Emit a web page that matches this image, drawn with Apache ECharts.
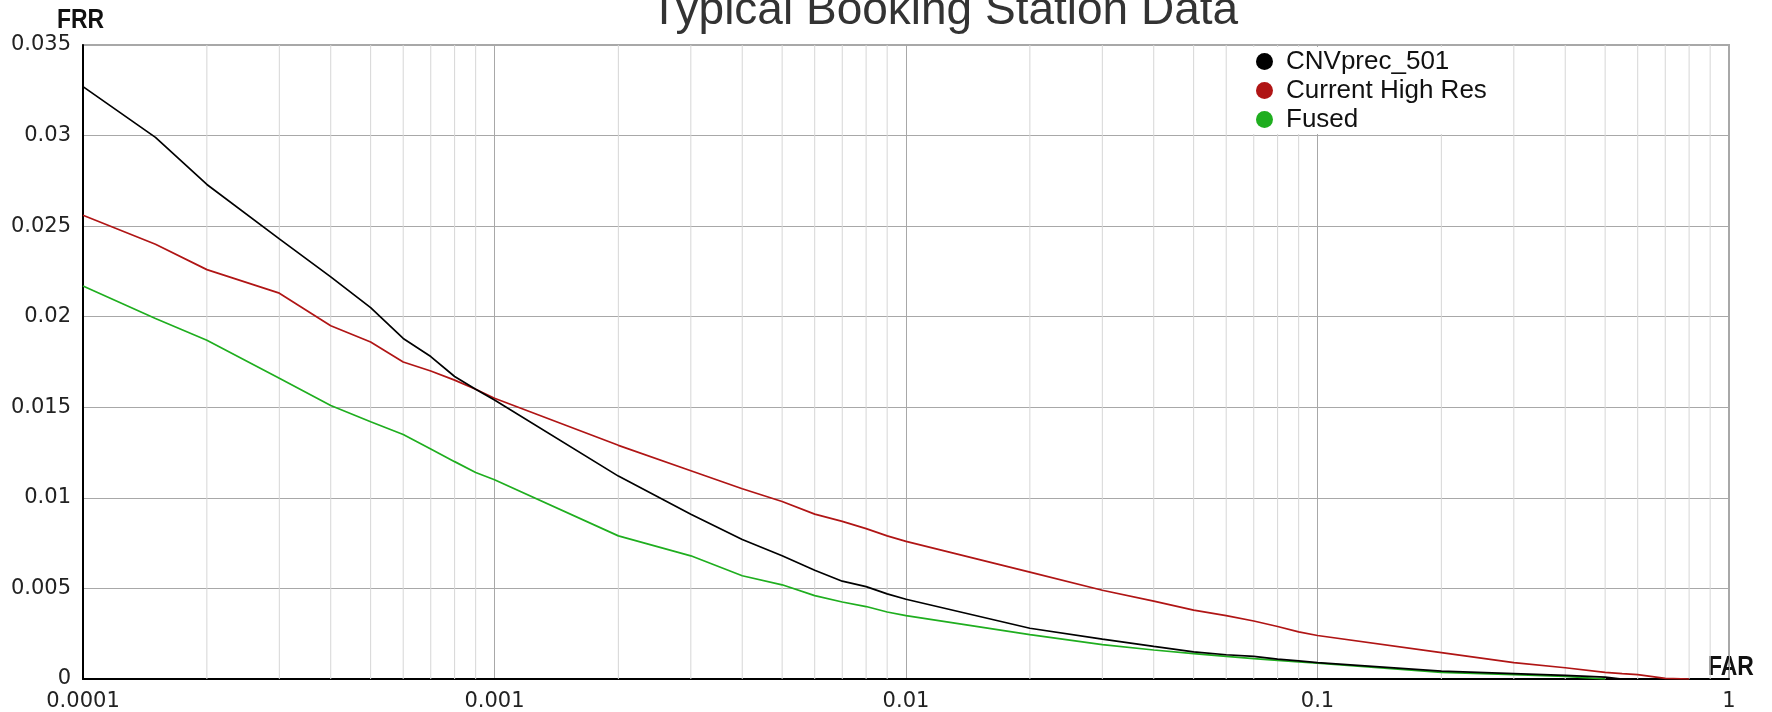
<!DOCTYPE html>
<html>
<head>
<meta charset="utf-8">
<script src="https://cdn.jsdelivr.net/npm/echarts@6/dist/echarts.min.js"></script>
<style>
  html, body { margin: 0; padding: 0; background: #fff; }
  #chart { width: 1772px; height: 712px; }
</style>
</head>
<body>
<div id="chart"></div>
<script>
// FAR sample points (x, log scale)
const farValues = [0.0001, 0.00015, 0.0002, 0.0003, 0.0004, 0.0005, 0.0006, 0.0007, 0.0008, 0.0009,
  0.001, 0.002, 0.003, 0.004, 0.005, 0.006, 0.007, 0.008, 0.009,
  0.01, 0.02, 0.03, 0.04, 0.05, 0.06, 0.07, 0.08, 0.09,
  0.1, 0.2, 0.3, 0.4, 0.5, 0.55, 0.6, 0.7, 0.8];

// FRR
const cnvprec501 = [0.0327, 0.0299, 0.0273, 0.0243, 0.0222, 0.0205, 0.0188, 0.0178, 0.0167, 0.0160,
  0.0154, 0.0112, 0.0091, 0.0077, 0.0068, 0.0060, 0.0054, 0.0051, 0.0047,
  0.0044, 0.0028, 0.0022, 0.0018, 0.0015, 0.00134, 0.00125, 0.0011, 0.0010,
  0.0009, 0.00043, 0.0003, 0.0002, 0.0001, 0, null, null, null];
const currentHighRes = [0.0256, 0.0240, 0.0226, 0.0213, 0.0195, 0.0186, 0.0175, 0.0170, 0.0165, 0.0160,
  0.0155, 0.0129, 0.0115, 0.0105, 0.0098, 0.0091, 0.0087, 0.0083, 0.0079,
  0.0076, 0.0059, 0.0049, 0.0043, 0.0038, 0.0035, 0.0032, 0.0029, 0.0026,
  0.0024, 0.00146, 0.0009, 0.00062, 0.00037, 0.0003, 0.00024, 0.00003, 0];
const fused = [0.0217, 0.0199, 0.0187, 0.0166, 0.0151, 0.0142, 0.0135, 0.0127, 0.0120, 0.0114,
  0.0110, 0.0079, 0.0068, 0.0057, 0.0052, 0.0046, 0.00425, 0.0040, 0.0037,
  0.0035, 0.00245, 0.0019, 0.0016, 0.0014, 0.00125, 0.00112, 0.00103, 0.00094,
  0.00088, 0.00037, 0.00024, 0.00015, 0, null, null, null, null];

const seriesNames = ['CNVprec_501', 'Current High Res', 'Fused'];
const seriesColors = ['#000000', '#b01515', '#1fae1f'];
const xTickLabels = ['0.0001', '0.001', '0.01', '0.1', '1'];
const yTickLabels = ['0', '0.005', '0.01', '0.015', '0.02', '0.025', '0.03', '0.035'];

const FRR_MAX = 0.035;

// light grid lines at 2..9 inside each decade, drawn as one broken line
const minorGrid = [];
[0.0001, 0.001, 0.01, 0.1].forEach(d => {
  for (let m = 2; m <= 9; m++) {
    const v = +(d * m).toPrecision(3);
    minorGrid.push([v, 0], [v, FRR_MAX], [v, null]);
  }
});

function pairs(ys) {
  return farValues.map((x, i) => [x, ys[i]]).filter(p => p[1] !== null);
}

const chart = echarts.init(document.getElementById('chart'));

const lineSeries = [cnvprec501, currentHighRes, fused].map((ys, i) => ({
  name: seriesNames[i],
  type: 'line',
  data: pairs(ys),
  showSymbol: false,
  z: 5 - i,
  color: seriesColors[i],
  lineStyle: { width: 1.7, color: seriesColors[i] }
}));

const option = {
  animation: false,
  grid: {
    left: 83, right: 43, top: 45, bottom: 32,
    show: true, borderColor: '#a8a8a8', borderWidth: 2, backgroundColor: '#fff'
  },
  graphic: [
    {
      type: 'text', x: 650, y: 11,
      style: { text: 'Typical Booking Station Data', font: '46px "Liberation Sans", Arial, sans-serif',
        fill: '#333', textAlign: 'left', textVerticalAlign: 'middle' }
    },
    {
      type: 'text', x: 57, y: 21, scaleX: 0.85,
      style: { text: 'FRR', font: 'bold 27px "Liberation Sans", Arial, sans-serif',
        fill: '#111', textAlign: 'left', textVerticalAlign: 'middle' }
    },
    {
      type: 'text', x: 1708, y: 668, scaleX: 0.85,
      style: { text: 'FAR', font: 'bold 27px "Liberation Sans", Arial, sans-serif',
        fill: '#111', textAlign: 'left', textVerticalAlign: 'middle' }
    }
  ],
  legend: {
    orient: 'vertical',
    left: 1236, top: 47,
    padding: [0, 12, 0, 20],
    backgroundColor: '#fff',
    itemGap: 0,
    itemWidth: 17, itemHeight: 17,
    icon: 'circle',
    data: seriesNames,
    textStyle: {
      fontFamily: '"Liberation Sans", Arial, sans-serif',
      fontSize: 26, lineHeight: 29, color: '#111',
      padding: [0, 0, 0, 8]
    }
  },
  xAxis: {
    type: 'log',
    logBase: 10,
    min: 0.0001,
    max: 1,
    axisLine: { show: true, onZero: false, lineStyle: { color: '#000', width: 2 } },
    axisTick: { show: false },
    splitLine: { show: true, lineStyle: { color: '#a8a8a8', width: 1 } },
    axisLabel: {
      margin: 12,
      fontFamily: '"DejaVu Sans", sans-serif',
      fontSize: 21,
      color: '#222',
      formatter: v => xTickLabels[Math.round(Math.log10(v)) + 4]
    }
  },
  yAxis: {
    type: 'value',
    min: 0,
    max: FRR_MAX,
    interval: 0.005,
    axisLine: { show: true, lineStyle: { color: '#000', width: 2 } },
    axisTick: { show: false },
    splitLine: { show: true, lineStyle: { color: '#a8a8a8', width: 1 } },
    axisLabel: {
      margin: 12,
      fontFamily: '"DejaVu Sans", sans-serif',
      fontSize: 21,
      color: '#222',
      formatter: v => yTickLabels[Math.round(v / 0.005)]
    }
  },
  series: [
    {
      name: 'minor',
      type: 'line',
      data: minorGrid,
      connectNulls: false,
      showSymbol: false,
      silent: true,
      z: 1,
      lineStyle: { color: '#d6d6d6', width: 1 }
    }
  ].concat(lineSeries)
};

chart.setOption(option);
</script>
</body>
</html>
